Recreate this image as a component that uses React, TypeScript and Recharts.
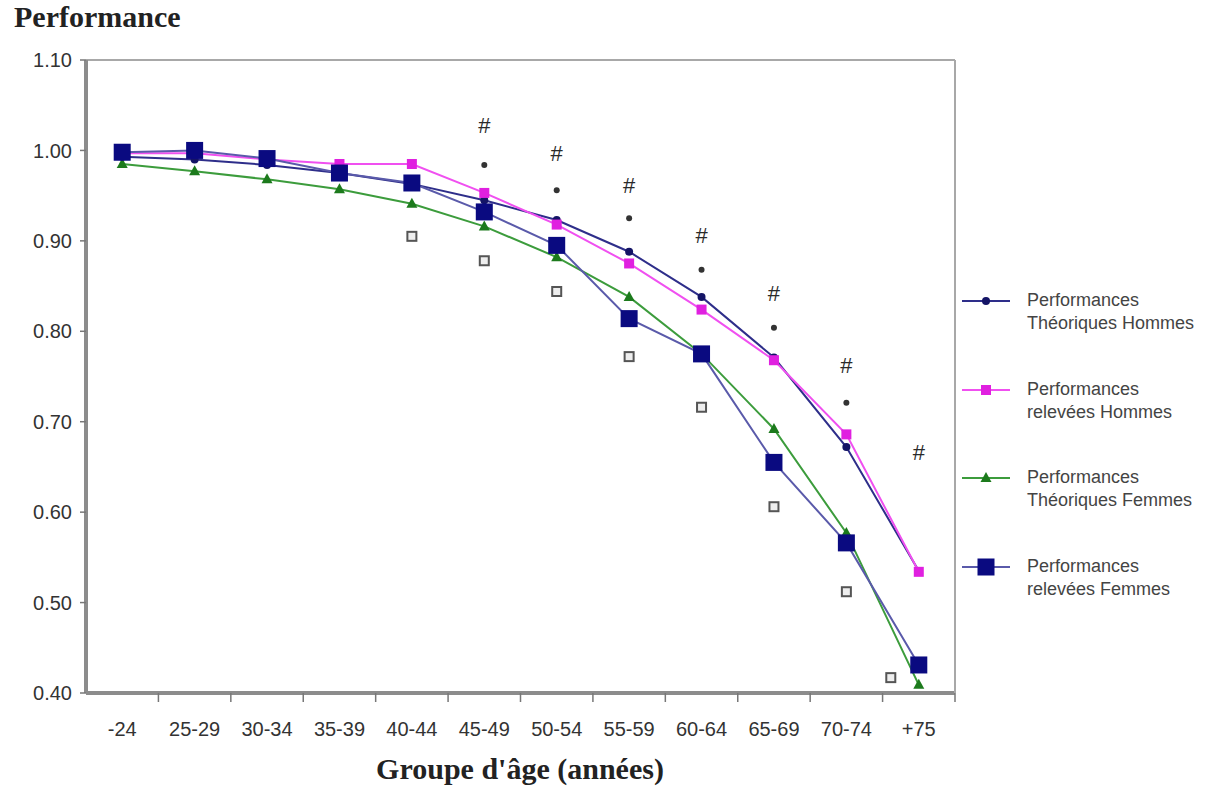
import { ComposedChart, Line, XAxis, YAxis, ReferenceLine } from 'recharts';

const categories = ['-24', '25-29', '30-34', '35-39', '40-44', '45-49', '50-54', '55-59', '60-64', '65-69', '70-74', '+75'];

// performance relative values
const theoHommes = [0.993, 0.990, 0.984, 0.975, 0.963, 0.945, 0.923, 0.888, 0.838, 0.771, 0.672, 0.535];
const releveesHommes = [0.997, 0.997, 0.990, 0.985, 0.985, 0.953, 0.918, 0.875, 0.824, 0.768, 0.686, 0.534];
const theoFemmes = [0.985, 0.977, 0.968, 0.957, 0.941, 0.916, 0.882, 0.838, 0.775, 0.692, 0.577, 0.409];
const releveesFemmes = [0.998, 1.0, 0.991, 0.975, 0.964, 0.932, 0.895, 0.814, 0.775, 0.655, 0.566, 0.431];

// significance markers (# , * , open square)
const hashMarks = [null, null, null, null, null, 1.028, 0.997, 0.962, 0.906, 0.842, 0.763, 0.667];
const starMarks = [null, null, null, null, null, 0.984, 0.956, 0.925, 0.868, 0.804, 0.721, null];
const squareMarks = [null, null, null, null, 0.905, 0.878, 0.844, 0.772, 0.716, 0.606, 0.512, 0.417];

const yTicks = [0.4, 0.5, 0.6, 0.7, 0.8, 0.9, 1.0, 1.1];

const legendItems = [
  { key: 'theoH', line1: 'Performances', line2: 'Théoriques Hommes' },
  { key: 'relH', line1: 'Performances', line2: 'relevées Hommes' },
  { key: 'theoF', line1: 'Performances', line2: 'Théoriques Femmes' },
  { key: 'relF', line1: 'Performances', line2: 'relevées Femmes' },
];

const data = categories.map((cat, i) => ({
  cat,
  theoH: theoHommes[i],
  relH: releveesHommes[i],
  theoF: theoFemmes[i],
  relF: releveesFemmes[i],
  hash: hashMarks[i],
  star: starMarks[i],
  sq: squareMarks[i],
}));

const SANS = '"Liberation Sans", Arial, sans-serif';
const SERIF = '"Liberation Serif", "Times New Roman", serif';
const AXIS = '#8c8c8c';

const COLORS = {
  theoH: { line: '#2e2e8a', mark: '#141466' },
  relH: { line: '#f050f0', mark: '#e020e0' },
  theoF: { line: '#3c9c3c', mark: '#1c7a1c' },
  relF: { line: '#5a5aaa', mark: '#0a0a80' },
};

const ok = (p: any) => p.cx != null && p.cy != null && p.value != null;

const RoundDot = (p: any) =>
  ok(p) ? <circle key={`d${p.index}`} cx={p.cx} cy={p.cy} r={4} fill={COLORS.theoH.mark} /> : <g key={`d${p.index}`} />;

const SmallSquare = (p: any) =>
  ok(p) ? <rect key={`s${p.index}`} x={p.cx - 5} y={p.cy - 5} width={10} height={10} fill={COLORS.relH.mark} /> : <g key={`s${p.index}`} />;

const Triangle = (p: any) =>
  ok(p) ? (
    <path key={`t${p.index}`} d={`M${p.cx},${p.cy - 6} L${p.cx + 5.5},${p.cy + 4} L${p.cx - 5.5},${p.cy + 4} Z`} fill={COLORS.theoF.mark} />
  ) : <g key={`t${p.index}`} />;

const BigSquare = (p: any) =>
  ok(p) ? <rect key={`b${p.index}`} x={p.cx - 8.5} y={p.cy - 8.5} width={17} height={17} fill={COLORS.relF.mark} /> : <g key={`b${p.index}`} />;

const HashMark = (p: any) =>
  ok(p) ? (
    <text key={`h${p.index}`} x={p.cx} y={p.cy} dy={8} textAnchor="middle" fontSize={22} fontFamily={SANS} fill="#2a2a2a">#</text>
  ) : <g key={`h${p.index}`} />;

const StarMark = (p: any) =>
  ok(p) ? <circle key={`a${p.index}`} cx={p.cx} cy={p.cy} r={3} fill="#333" /> : <g key={`a${p.index}`} />;

const OpenSquare = (p: any) => {
  if (!ok(p)) return <g key={`o${p.index}`} />;
  // the last marker sits left of the +75 column in the figure
  const cx = p.index === categories.length - 1 ? p.cx - 28 : p.cx;
  return <rect key={`o${p.index}`} x={cx - 4.5} y={p.cy - 4.5} width={9} height={9} fill="#eee" stroke="#555" strokeWidth={2} />;
};

const XTick = (p: any) => {
  const { x, y, payload } = p;
  const off = payload.offset ?? 0;
  return (
    <g>
      <line x1={x + off} x2={x + off} y1={y} y2={y + 9} stroke="#777" strokeWidth={1.5} />
      <text x={x} y={y} dy={43} textAnchor="middle" fontSize={20} fontFamily={SANS} fill="#333">{payload.value}</text>
    </g>
  );
};

const LegendMarker = ({ k }: { k: string }) => {
  const c = (COLORS as any)[k];
  return (
    <svg width={50} height={20} style={{ position: 'absolute', left: 0, top: -10 }}>
      <line x1={2} x2={50} y1={10} y2={10} stroke={c.line} strokeWidth={2} />
      {k === 'theoH' && <circle cx={26} cy={10} r={4} fill={c.mark} />}
      {k === 'relH' && <rect x={21} y={5} width={10} height={10} fill={c.mark} />}
      {k === 'theoF' && <path d="M26,4 L31.5,14 L20.5,14 Z" fill={c.mark} />}
      {k === 'relF' && <rect x={17.5} y={1.5} width={17} height={17} fill={c.mark} />}
    </svg>
  );
};

export default function App() {
  return (
    <div style={{ position: 'absolute', left: 0, top: 0, width: 1205, height: 789, background: '#fff' }}>
      <div style={{ position: 'absolute', left: 14, top: 0, fontFamily: SERIF, fontWeight: 'bold', fontSize: 30, color: '#222' }}>
        Performance
      </div>
      <ComposedChart width={1205} height={789} data={data} margin={{ top: 60, right: 249, bottom: 56, left: 0 }}>
        <XAxis
          dataKey="cat"
          scale="band"
          interval={0}
          height={40}
          tickSize={0}
          tickMargin={0}
          tickLine={false}
          axisLine={{ stroke: AXIS, strokeWidth: 4 }}
          tick={(p: any) => <XTick {...p} />}
        />
        <YAxis
          domain={[0.4, 1.1]}
          ticks={yTicks}
          width={86}
          tickSize={6}
          tickMargin={8}
          tickFormatter={(v: number) => v.toFixed(2)}
          axisLine={{ stroke: AXIS, strokeWidth: 4 }}
          tickLine={{ stroke: '#777', strokeWidth: 1.5 }}
          tick={{ fontSize: 20, fontFamily: SANS, fill: '#333' }}
        />
        <YAxis yAxisId="r" orientation="right" width={1} domain={[0.4, 1.1]} tick={false} tickLine={false} axisLine={{ stroke: '#a8a8a8', strokeWidth: 2 }} />
        <ReferenceLine y={1.1} stroke="#a8a8a8" strokeWidth={2} />

        <Line dataKey="theoF" stroke={COLORS.theoF.line} strokeWidth={2} dot={Triangle} activeDot={false} isAnimationActive={false} />
        <Line dataKey="theoH" stroke={COLORS.theoH.line} strokeWidth={2} dot={RoundDot} activeDot={false} isAnimationActive={false} />
        <Line dataKey="relH" stroke={COLORS.relH.line} strokeWidth={2} dot={SmallSquare} activeDot={false} isAnimationActive={false} />
        <Line dataKey="relF" stroke={COLORS.relF.line} strokeWidth={2} dot={BigSquare} activeDot={false} isAnimationActive={false} />

        <Line dataKey="hash" stroke="none" dot={HashMark} activeDot={false} isAnimationActive={false} />
        <Line dataKey="star" stroke="none" dot={StarMark} activeDot={false} isAnimationActive={false} />
        <Line dataKey="sq" stroke="none" dot={OpenSquare} activeDot={false} isAnimationActive={false} />
      </ComposedChart>

      <div style={{ position: 'absolute', left: 520, top: 752, transform: 'translateX(-50%)', whiteSpace: 'nowrap', fontFamily: SERIF, fontWeight: 'bold', fontSize: 30, color: '#222' }}>
        Groupe d'âge (années)
      </div>

      {legendItems.map((it, i) => {
        const cy = 301 + i * 88.7;
        return (
          <div key={it.key} style={{ position: 'absolute', left: 960, top: cy, width: 245 }}>
            <LegendMarker k={it.key} />
            <div style={{ position: 'absolute', left: 67, top: -12, fontFamily: SANS, fontSize: 18, lineHeight: '23px', color: '#444', whiteSpace: 'nowrap' }}>
              {it.line1}
              <br />
              {it.line2}
            </div>
          </div>
        );
      })}
    </div>
  );
}
